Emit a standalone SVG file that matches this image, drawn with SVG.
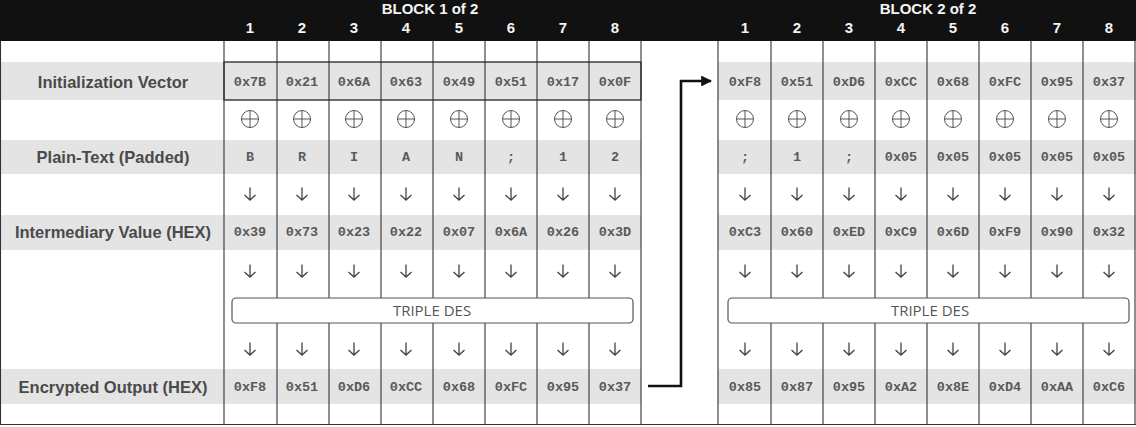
<svg xmlns="http://www.w3.org/2000/svg" width="1136" height="427" viewBox="0 0 1136 427">
<style>
.hdr{font-family:"Liberation Sans",Arial,sans-serif;font-weight:bold;font-size:15px;fill:#f4f4f4;text-anchor:middle}
.lbl{font-family:"Liberation Sans",Arial,sans-serif;font-weight:bold;font-size:16.5px;fill:#4a4a4a;text-anchor:middle}
.val{font-family:"Liberation Mono","Courier New",monospace;font-weight:bold;font-size:13.5px;fill:#5a5a5a;text-anchor:middle}
.des{font-family:"Open Sans","Liberation Sans",sans-serif;font-size:15px;fill:#555;text-anchor:middle}
.band{fill:#e4e4e4}
.col{stroke:#333;stroke-width:1.1}
.box{fill:#fff;stroke:#555;stroke-width:1.2}
.conn{fill:none;stroke:#111;stroke-width:2.6}
</style>
<defs>
<g id="xor"><circle r="8.5" fill="none" stroke="#555" stroke-width="1"/><path d="M-8.5,0H8.5M0,-8.5V8.5" stroke="#555" stroke-width="1"/></g>
<g id="dn"><path d="M0,-6.5V6M-5.5,1L0,6L5.5,1" fill="none" stroke="#444" stroke-width="1.3"/></g>
<marker id="ah" viewBox="0 0 10 10" refX="9" refY="5" markerWidth="4.2" markerHeight="4.2" orient="auto" markerUnits="strokeWidth"><path d="M0,0L10,5L0,10z" fill="#111"/></marker>
</defs>
<rect width="1136" height="427" fill="#fff"/>
<g id="bands">
<rect class="band" x="0" y="62" width="641" height="38"/>
<rect class="band" x="718" y="62" width="418" height="38"/>
<rect class="band" x="0" y="140" width="641" height="34"/>
<rect class="band" x="718" y="140" width="418" height="34"/>
<rect class="band" x="0" y="215" width="641" height="35"/>
<rect class="band" x="718" y="215" width="418" height="35"/>
<rect class="band" x="0" y="369" width="641" height="35"/>
<rect class="band" x="718" y="369" width="418" height="35"/>
</g>
<g id="header">
<rect x="0" y="0" width="1136" height="41" fill="#111"/>
<text class="hdr" x="430" y="14">BLOCK 1 of 2</text>
<text class="hdr" x="928" y="14">BLOCK 2 of 2</text>
<text class="hdr" x="250" y="33">1</text><text class="hdr" x="302" y="33">2</text><text class="hdr" x="354" y="33">3</text><text class="hdr" x="406" y="33">4</text><text class="hdr" x="459" y="33">5</text><text class="hdr" x="511" y="33">6</text><text class="hdr" x="563" y="33">7</text><text class="hdr" x="615" y="33">8</text>
<text class="hdr" x="745" y="33">1</text><text class="hdr" x="797" y="33">2</text><text class="hdr" x="849" y="33">3</text><text class="hdr" x="901" y="33">4</text><text class="hdr" x="953" y="33">5</text><text class="hdr" x="1005" y="33">6</text><text class="hdr" x="1057" y="33">7</text><text class="hdr" x="1109" y="33">8</text>
</g>
<g id="grid">
<path class="col" d="M224,41V425M277,41V425M329,41V425M381,41V425M433,41V425M485,41V425M537,41V425M589,41V425M641,41V425"/>
<path class="col" d="M718,41V425M771,41V425M823,41V425M875,41V425M927,41V425M979,41V425M1031,41V425M1083,41V425M1135,41V425"/>
<path class="col" d="M0.5,41V425M0,424.5H1136"/>
<rect x="224" y="62" width="417" height="38" fill="none" stroke="#333" stroke-width="1.4"/>
</g>
<g id="labels">
<text class="lbl" x="113" y="88">Initialization Vector</text>
<text class="lbl" x="113" y="163">Plain-Text (Padded)</text>
<text class="lbl" x="113" y="238">Intermediary Value (HEX)</text>
<text class="lbl" x="113" y="393">Encrypted Output (HEX)</text>
</g>
<g id="block1">
<g class="val">
<text x="250" y="86">0x7B</text><text x="302" y="86">0x21</text><text x="354" y="86">0x6A</text><text x="406" y="86">0x63</text><text x="459" y="86">0x49</text><text x="511" y="86">0x51</text><text x="563" y="86">0x17</text><text x="615" y="86">0x0F</text>
<text x="250" y="161">B</text><text x="302" y="161">R</text><text x="354" y="161">I</text><text x="406" y="161">A</text><text x="459" y="161">N</text><text x="511" y="161">;</text><text x="563" y="161">1</text><text x="615" y="161">2</text>
<text x="250" y="236">0x39</text><text x="302" y="236">0x73</text><text x="354" y="236">0x23</text><text x="406" y="236">0x22</text><text x="459" y="236">0x07</text><text x="511" y="236">0x6A</text><text x="563" y="236">0x26</text><text x="615" y="236">0x3D</text>
<text x="250" y="391">0xF8</text><text x="302" y="391">0x51</text><text x="354" y="391">0xD6</text><text x="406" y="391">0xCC</text><text x="459" y="391">0x68</text><text x="511" y="391">0xFC</text><text x="563" y="391">0x95</text><text x="615" y="391">0x37</text>
</g>
<use href="#xor" x="250" y="119"/><use href="#xor" x="302" y="119"/><use href="#xor" x="354" y="119"/><use href="#xor" x="406" y="119"/><use href="#xor" x="459" y="119"/><use href="#xor" x="511" y="119"/><use href="#xor" x="563" y="119"/><use href="#xor" x="615" y="119"/>
<use href="#dn" x="250" y="194"/><use href="#dn" x="302" y="194"/><use href="#dn" x="354" y="194"/><use href="#dn" x="406" y="194"/><use href="#dn" x="459" y="194"/><use href="#dn" x="511" y="194"/><use href="#dn" x="563" y="194"/><use href="#dn" x="615" y="194"/>
<use href="#dn" x="250" y="271"/><use href="#dn" x="302" y="271"/><use href="#dn" x="354" y="271"/><use href="#dn" x="406" y="271"/><use href="#dn" x="459" y="271"/><use href="#dn" x="511" y="271"/><use href="#dn" x="563" y="271"/><use href="#dn" x="615" y="271"/>
<use href="#dn" x="250" y="349"/><use href="#dn" x="302" y="349"/><use href="#dn" x="354" y="349"/><use href="#dn" x="406" y="349"/><use href="#dn" x="459" y="349"/><use href="#dn" x="511" y="349"/><use href="#dn" x="563" y="349"/><use href="#dn" x="615" y="349"/>
<g id="des1"><rect class="box" x="232" y="298" width="401" height="25" rx="4"/><text class="des" x="432" y="316">TRIPLE DES</text></g>
</g>
<g id="block2">
<g class="val">
<text x="745" y="86">0xF8</text><text x="797" y="86">0x51</text><text x="849" y="86">0xD6</text><text x="901" y="86">0xCC</text><text x="953" y="86">0x68</text><text x="1005" y="86">0xFC</text><text x="1057" y="86">0x95</text><text x="1109" y="86">0x37</text>
<text x="745" y="161">;</text><text x="797" y="161">1</text><text x="849" y="161">;</text><text x="901" y="161">0x05</text><text x="953" y="161">0x05</text><text x="1005" y="161">0x05</text><text x="1057" y="161">0x05</text><text x="1109" y="161">0x05</text>
<text x="745" y="236">0xC3</text><text x="797" y="236">0x60</text><text x="849" y="236">0xED</text><text x="901" y="236">0xC9</text><text x="953" y="236">0x6D</text><text x="1005" y="236">0xF9</text><text x="1057" y="236">0x90</text><text x="1109" y="236">0x32</text>
<text x="745" y="391">0x85</text><text x="797" y="391">0x87</text><text x="849" y="391">0x95</text><text x="901" y="391">0xA2</text><text x="953" y="391">0x8E</text><text x="1005" y="391">0xD4</text><text x="1057" y="391">0xAA</text><text x="1109" y="391">0xC6</text>
</g>
<use href="#xor" x="745" y="119"/><use href="#xor" x="797" y="119"/><use href="#xor" x="849" y="119"/><use href="#xor" x="901" y="119"/><use href="#xor" x="953" y="119"/><use href="#xor" x="1005" y="119"/><use href="#xor" x="1057" y="119"/><use href="#xor" x="1109" y="119"/>
<use href="#dn" x="745" y="194"/><use href="#dn" x="797" y="194"/><use href="#dn" x="849" y="194"/><use href="#dn" x="901" y="194"/><use href="#dn" x="953" y="194"/><use href="#dn" x="1005" y="194"/><use href="#dn" x="1057" y="194"/><use href="#dn" x="1109" y="194"/>
<use href="#dn" x="745" y="271"/><use href="#dn" x="797" y="271"/><use href="#dn" x="849" y="271"/><use href="#dn" x="901" y="271"/><use href="#dn" x="953" y="271"/><use href="#dn" x="1005" y="271"/><use href="#dn" x="1057" y="271"/><use href="#dn" x="1109" y="271"/>
<use href="#dn" x="745" y="349"/><use href="#dn" x="797" y="349"/><use href="#dn" x="849" y="349"/><use href="#dn" x="901" y="349"/><use href="#dn" x="953" y="349"/><use href="#dn" x="1005" y="349"/><use href="#dn" x="1057" y="349"/><use href="#dn" x="1109" y="349"/>
<g id="des2"><rect class="box" x="728" y="298" width="401" height="25" rx="4"/><text class="des" x="930" y="316">TRIPLE DES</text></g>
</g>
<g id="connectors">
<path class="conn" d="M648,386H681V81H711" marker-end="url(#ah)"/>
</g>
</svg>
